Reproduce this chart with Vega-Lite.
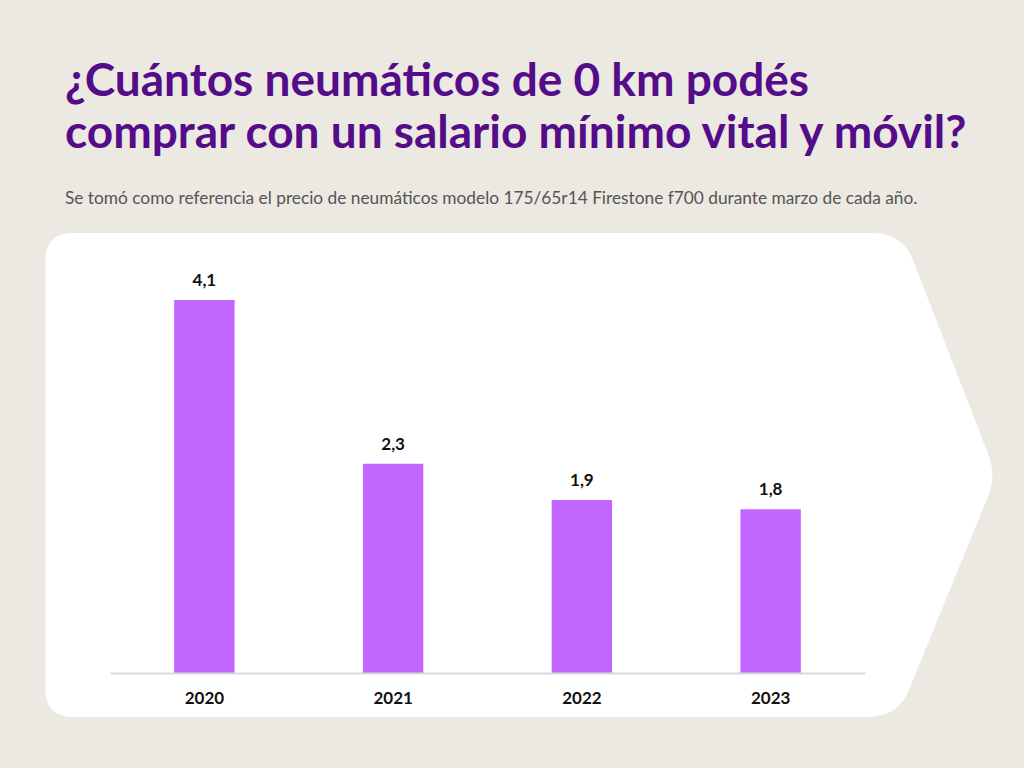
{
  "$schema": "https://vega.github.io/schema/vega-lite/v6.json",
  "width": 755,
  "height": 440,
  "autosize": {"type": "none"},
  "padding": {"left": 110, "top": 233, "right": 159, "bottom": 95},
  "background": "#ECE8E2",
  "title": {
    "text": ["¿Cuántos neumáticos de 0 km podés", "comprar con un salario mínimo vital y móvil?"],
    "subtitle": "Se tomó como referencia el precio de neumáticos modelo 175/65r14 Firestone f700 durante marzo de cada año.",
    "anchor": "start",
    "frame": "group",
    "dx": -45,
    "font": "Lato",
    "fontSize": 46,
    "fontWeight": "bold",
    "color": "#540C88",
    "lineHeight": 52,
    "subtitleFont": "Lato",
    "subtitleFontSize": 17.3,
    "subtitleColor": "#555555",
    "subtitlePadding": 32,
    "offset": 25
  },
  "config": {
    "view": {"stroke": null}
  },
  "data": {
    "values": [
      {"year": "2020", "value": 4.1, "label": "4,1"},
      {"year": "2021", "value": 2.3, "label": "2,3"},
      {"year": "2022", "value": 1.9, "label": "1,9"},
      {"year": "2023", "value": 1.8, "label": "1,8"}
    ]
  },
  "encoding": {
    "x": {
      "field": "year",
      "type": "nominal",
      "sort": null,
      "scale": {"paddingInner": 0.68, "paddingOuter": 0.34},
      "axis": {
        "title": null,
        "labelAngle": 0,
        "domainColor": "#D9D9D9",
        "domainWidth": 2,
        "ticks": false,
        "labelFont": "Lato",
        "labelFontWeight": "bold",
        "labelFontSize": 17,
        "labelColor": "#111111",
        "labelPadding": 17,
        "zindex": 1
      }
    },
    "y": {
      "field": "value",
      "type": "quantitative",
      "scale": {"domain": [0, 4.835], "nice": false},
      "axis": null
    }
  },
  "layer": [
    {
      "transform": [{"filter": "datum.year == '2020'"}],
      "mark": {
        "type": "point",
        "shape": "M -159 -39 Q -159 -67 -131 -67 L 668 -67 Q 698 -67 709 -39 L 783 152 Q 793 175 783 198 L 705 389 Q 694 417 664 417 L -131 417 Q -159 417 -159 389 Z",
        "size": 4,
        "filled": true,
        "color": "#FFFFFF",
        "opacity": 1,
        "strokeWidth": 0
      }
    },
    {
      "mark": {"type": "bar", "color": "#C166FF"}
    },
    {
      "mark": {"type": "text", "dy": -14, "baseline": "alphabetic", "font": "Lato", "fontWeight": "bold", "fontSize": 17, "color": "#111111"},
      "encoding": {
        "text": {"field": "label", "type": "nominal"}
      }
    }
  ]
}
